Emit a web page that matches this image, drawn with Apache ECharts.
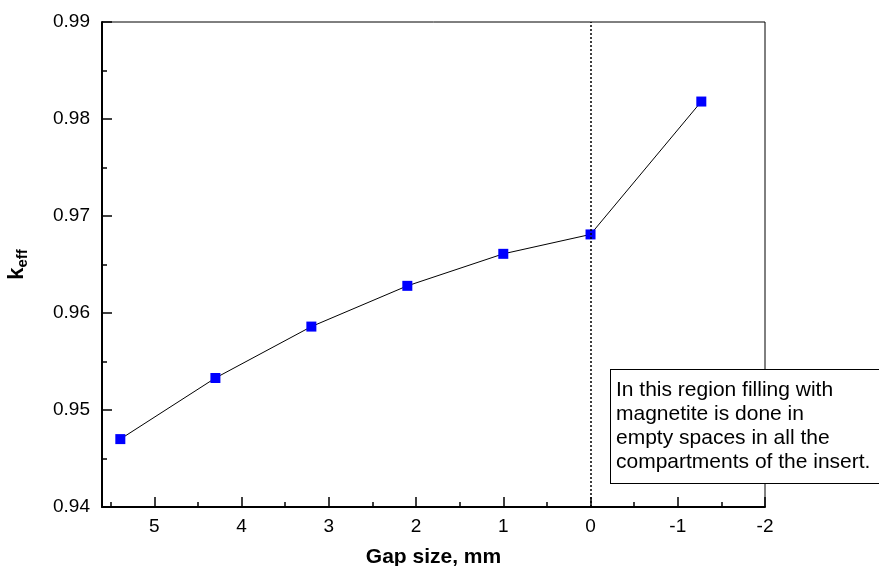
<!DOCTYPE html>
<html>
<head>
<meta charset="utf-8">
<script src="https://cdn.jsdelivr.net/npm/echarts@6/dist/echarts.min.js"></script>
<style>
html,body{margin:0;padding:0;background:#fff;}
#chart{width:879px;height:566px;}
</style>
</head>
<body>
<div id="chart"></div>
<script>
// Data
const gapSize = [5.39, 4.3, 3.2, 2.1, 1.0, 0.0, -1.27];
const keff = [0.9470, 0.9533, 0.9586, 0.9628, 0.9661, 0.9681, 0.9818];
const xTickLabels = ['5', '4', '3', '2', '1', '0', '-1', '-2'];
const yTickLabels = ['0.94', '0.95', '0.96', '0.97', '0.98', '0.99'];
const noteLines = [
  'In this region filling with',
  'magnetite is done in',
  'empty spaces in all the',
  'compartments of the insert.'
];

const FONT = "'Liberation Sans', Arial, Helvetica, sans-serif";
const chart = echarts.init(document.getElementById('chart'));

const option = {
  backgroundColor: '#fff',
  animation: false,
  grid: {
    left: 102, right: 114, top: 22, bottom: 59,
    containLabel: false, outerBoundsMode: 'none',
    show: true, borderColor: '#000', borderWidth: 1, backgroundColor: 'transparent'
  },
  xAxis: [
    {
      type: 'value', inverse: true, min: -2, max: 5.6, interval: 1,
      name: 'Gap size, mm', nameLocation: 'middle', nameGap: 40,
      nameTextStyle: { fontFamily: FONT, fontSize: 21, fontWeight: 'bold', color: '#000' },
      axisLine: { show: true, onZero: false, lineStyle: { color: '#000', width: 2 } },
      axisTick: { show: true, inside: true, length: 10, lineStyle: { color: '#000', width: 1.5 } },
      axisLabel: {
        fontFamily: FONT, fontSize: 19, color: '#000', margin: 10,
        formatter: function (v) {
          const s = String(Math.round(v));
          return (Math.abs(v - Math.round(v)) < 1e-6 && xTickLabels.indexOf(s) >= 0) ? s : '';
        }
      },
      splitLine: { show: false }
    },
    {
      type: 'value', inverse: true, min: -2, max: 5.6, interval: 0.5,
      position: 'bottom',
      axisLine: { show: false, onZero: false },
      axisTick: { show: true, inside: true, length: 5, lineStyle: { color: '#000', width: 1.5 } },
      axisLabel: { show: false },
      splitLine: { show: false }
    }
  ],
  yAxis: {
    type: 'value', min: 0.94, max: 0.99, interval: 0.01,
    name: '{k|k}{s|eff}', nameLocation: 'middle', nameGap: 72, nameRotate: 90,
    nameTextStyle: {
      fontFamily: FONT, color: '#000',
      rich: {
        k: { fontFamily: FONT, fontSize: 22, fontWeight: 'bold', color: '#000', lineHeight: 26 },
        s: { fontFamily: FONT, fontSize: 15, fontWeight: 'bold', color: '#000', verticalAlign: 'bottom', lineHeight: 26, padding: [10, 0, 0, 0] }
      }
    },
    axisLine: { show: true, onZero: false, lineStyle: { color: '#000', width: 2 } },
    axisTick: { show: true, inside: true, length: 10, lineStyle: { color: '#000', width: 1.5 } },
    minorTick: { show: true, splitNumber: 2, length: 5, lineStyle: { color: '#000', width: 1.5 } },
    axisLabel: {
      fontFamily: FONT, fontSize: 19, color: '#000', margin: 12,
      formatter: function (v) {
        const idx = Math.round((v - 0.94) / 0.01);
        return yTickLabels[idx] !== undefined ? yTickLabels[idx] : '';
      }
    },
    splitLine: { show: false },
    minorSplitLine: { show: false }
  },
  series: [{
    type: 'line',
    xAxisIndex: 0,
    data: gapSize.map((g, i) => [g, keff[i]]),
    symbol: 'rect', symbolSize: 10,
    itemStyle: { color: '#0000ff' },
    lineStyle: { color: '#000', width: 1 },
    z: 3,
    markLine: {
      silent: true, symbol: ['none', 'none'],
      label: { show: false },
      lineStyle: { color: '#000', type: [2, 2], width: 1.5 },
      data: [{ xAxis: 0 }]
    }
  }],
  graphic: [{
    type: 'text',
    left: 610, top: 369, z: 100,
    style: {
      text: noteLines.join('\n'),
      fontFamily: FONT, fontSize: 21, lineHeight: 24,
      fill: '#000',
      backgroundColor: '#fff',
      borderColor: '#000', borderWidth: 1,
      padding: [8, 20, 9, 5]
    }
  }]
};
chart.setOption(option);
</script>
</body>
</html>
